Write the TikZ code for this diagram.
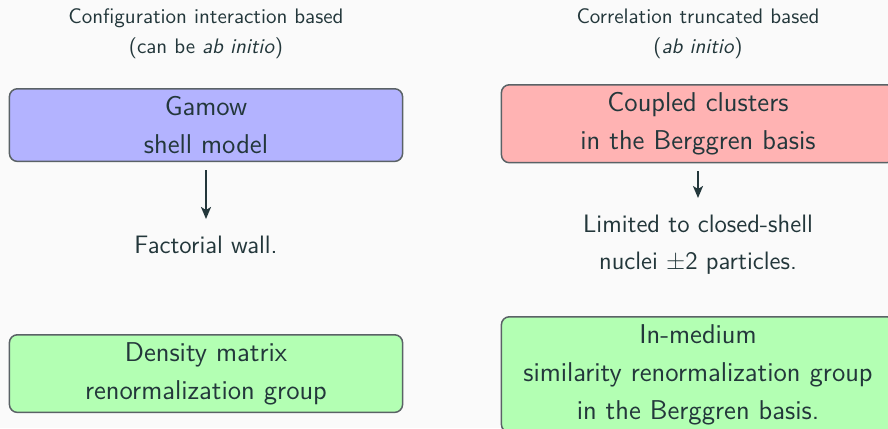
\documentclass[tikz,border=0pt]{standalone}
\usepackage{xcolor}
\usepackage{tikz}
\usetikzlibrary{arrows.meta, positioning}

\definecolor{slidebg}{HTML}{FAFAFA}
\definecolor{slidetext}{HTML}{23373B}
\definecolor{boxline}{HTML}{5A6266}
\definecolor{gsmblue}{HTML}{B3B3FF}
\definecolor{ccred}{HTML}{FFB3B3}
\definecolor{rggreen}{HTML}{B3FFB3}

\begin{document}
\begin{tikzpicture}[x=0.5pt, y=-0.5pt,
  every node/.style={text=slidetext},
  hdr/.style={font=\sffamily\fontsize{10.5}{15}\selectfont, align=center,
    inner sep=0pt, anchor=north},
  note/.style={font=\sffamily\fontsize{12.6}{18.5}\selectfont, align=center,
    inner sep=0pt, anchor=north},
  methodbox/.style={draw=boxline, line width=0.75pt, rounded corners=4pt,
    text width=189pt, inner sep=3.8pt, align=center, anchor=north,
    font=\sffamily\fontsize{13.6}{19}\selectfont},
  cause/.style={-{Stealth[length=6pt,width=5pt,inset=1.5pt]}, line width=1pt,
    draw=slidetext, shorten <=4pt, shorten >=8.5pt}
]
  % slide background, fixes the frame
  \fill[slidebg] (0,0) rectangle (888,428);
  \useasboundingbox (0,0) rectangle (888,428);

  % Column headings
  \node[hdr] (cihead) at (206,8) {Configuration interaction based\\(can be \textit{ab initio})};
  \node[hdr] (cthead) at (698,8) {Correlation truncated based\\(\textit{ab initio})};

  % Top row of methods
  \node[methodbox, fill=gsmblue] (gsm) at (206,88) {Gamow\\shell model};
  \node[methodbox, fill=ccred] (ccb) at (698,84) {Coupled clusters\\in the Berggren basis};

  % Limitations
  \node[note] (wall) at (206,236) {Factorial wall.};
  \node[note] (limit) at (698,215) {Limited to closed-shell\\nuclei ±2 particles.};

  \draw[cause] (gsm) -- (wall);
  \draw[cause] (ccb) -- (limit);

  % Renormalization group methods
  \node[methodbox, fill=rggreen] (dmrg) at (206,334) {Density matrix\\renormalization group};
  \node[methodbox, fill=rggreen] (imsrg) at (698,316) {In-medium\\similarity renormalization group\\in the Berggren basis.};
\end{tikzpicture}
\end{document}
